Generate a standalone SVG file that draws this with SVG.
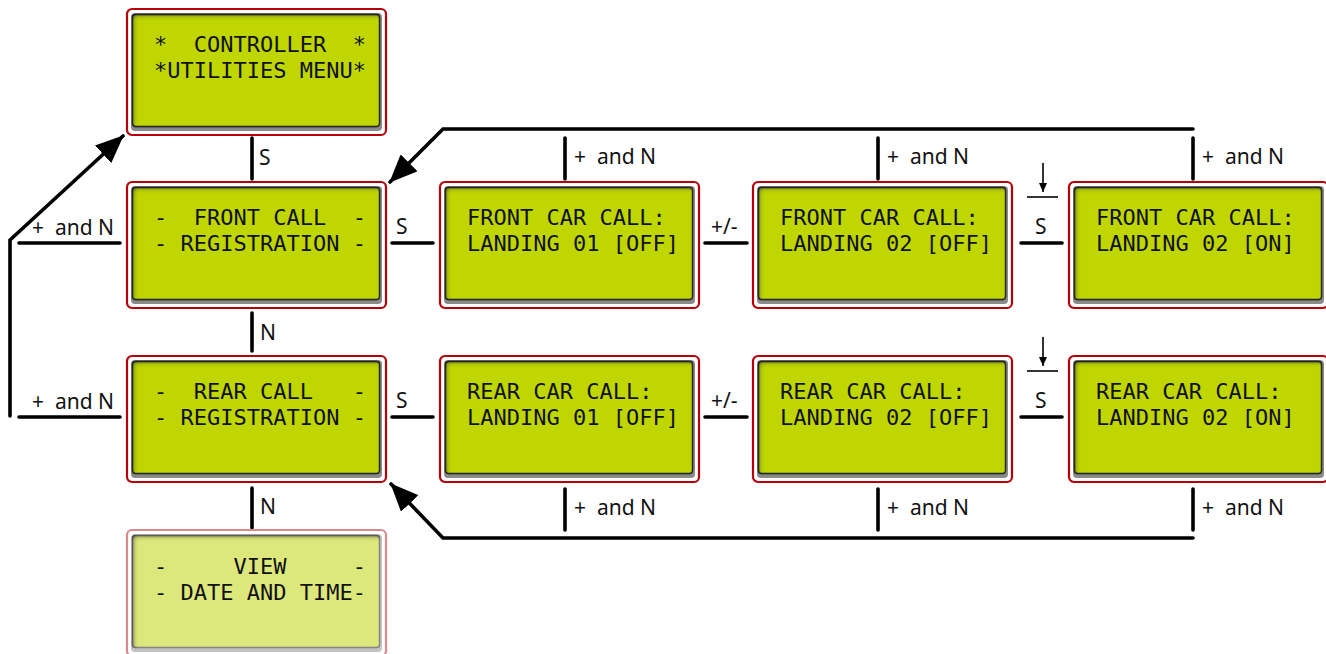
<svg xmlns="http://www.w3.org/2000/svg" width="1326" height="654" viewBox="0 0 1326 654">
<style>
.outer{fill:#fff;stroke:#b8000a;stroke-width:2.2}
.bevel{fill:#8a8a8a}
.screen{fill:#bfd600;stroke:#2a2a2a;stroke-width:1.4}
.lcd{font-family:"DejaVu Sans Mono",monospace;font-size:22px;fill:#111;white-space:pre}
.lbl{font-family:"Noto Sans","Open Sans",sans-serif;font-size:21px;fill:#111;white-space:pre}
.ln{stroke:#000;stroke-width:3.6;fill:none;stroke-linecap:round}
.thin{stroke:#000;stroke-width:1.6;fill:none}
.faded .outer{stroke:#d88a8e}
.faded .bevel{fill:#c4c4c4}
.faded .screen{fill:#dde87c;stroke:#8a8a8a}
</style>
<defs>
<filter id="inner" x="-5%" y="-5%" width="110%" height="110%">
<feComponentTransfer in="SourceAlpha"><feFuncA type="table" tableValues="1 0"/></feComponentTransfer>
<feGaussianBlur stdDeviation="2.2"/>
<feOffset dx="2" dy="2" result="shadow"/>
<feFlood flood-color="#222" flood-opacity="0.9"/>
<feComposite in2="shadow" operator="in"/>
<feComposite in2="SourceAlpha" operator="in" result="sh"/>
<feMerge><feMergeNode in="SourceGraphic"/><feMergeNode in="sh"/></feMerge>
</filter>
<marker id="big" markerUnits="userSpaceOnUse" markerWidth="30" markerHeight="24" refX="27" refY="12" orient="auto">
<path d="M0,0 L28,12 L0,24 Z" fill="#000"/>
</marker>
<marker id="small" markerUnits="userSpaceOnUse" markerWidth="10" markerHeight="10" refX="9" refY="4" orient="auto">
<path d="M0,0 L9,4 L0,8 Z" fill="#000"/>
</marker>
<g id="box">
<rect class="outer" x="0" y="0" width="259" height="126" rx="5"/>
<rect class="bevel" x="4" y="4" width="251" height="118" rx="4"/>
<rect class="screen" x="5.5" y="5.5" width="247" height="112" rx="3" filter="url(#inner)"/>
</g>
</defs>

<g id="connectors">
<polyline class="ln" points="10,416 10,240 123,136" marker-end="url(#big)"/>
<line class="ln" x1="19" y1="243" x2="120" y2="243"/>
<line class="ln" x1="19" y1="417" x2="120" y2="417"/>
<text class="lbl" x="32" y="235">+  and N</text>
<text class="lbl" x="32" y="409">+  and N</text>
<line class="ln" x1="252" y1="138" x2="252" y2="179"/>
<text class="lbl" x="259" y="165">S</text>
<line class="ln" x1="252" y1="313" x2="252" y2="351"/>
<text class="lbl" x="260" y="340">N</text>
<line class="ln" x1="252" y1="488" x2="252" y2="528"/>
<text class="lbl" x="260" y="514">N</text>
<line class="ln" x1="392" y1="243" x2="433" y2="243"/>
<text class="lbl" x="396" y="234">S</text>
<line class="ln" x1="705" y1="243" x2="747" y2="243"/>
<text class="lbl" x="711" y="234">+/-</text>
<line class="ln" x1="1021" y1="243" x2="1062" y2="243"/>
<text class="lbl" x="1035" y="234">S</text>
<line class="thin" x1="1027" y1="197" x2="1058" y2="197"/>
<line class="thin" x1="1043" y1="163" x2="1043" y2="192" marker-end="url(#small)"/>
<line class="ln" x1="392" y1="417" x2="433" y2="417"/>
<text class="lbl" x="396" y="408">S</text>
<line class="ln" x1="705" y1="417" x2="747" y2="417"/>
<text class="lbl" x="711" y="408">+/-</text>
<line class="ln" x1="1021" y1="417" x2="1062" y2="417"/>
<text class="lbl" x="1035" y="408">S</text>
<line class="thin" x1="1027" y1="371" x2="1058" y2="371"/>
<line class="thin" x1="1043" y1="337" x2="1043" y2="366" marker-end="url(#small)"/>
<polyline class="ln" points="1193,129 443,129 390,182" marker-end="url(#big)"/>
<line class="ln" x1="565" y1="138" x2="565" y2="179"/>
<line class="ln" x1="878" y1="138" x2="878" y2="179"/>
<line class="ln" x1="1193" y1="138" x2="1193" y2="179"/>
<text class="lbl" x="574" y="164">+  and N</text>
<text class="lbl" x="887" y="164">+  and N</text>
<text class="lbl" x="1202" y="164">+  and N</text>
<polyline class="ln" points="1193,538 443,538 391,484" marker-end="url(#big)"/>
<line class="ln" x1="565" y1="489" x2="565" y2="530"/>
<line class="ln" x1="878" y1="489" x2="878" y2="530"/>
<line class="ln" x1="1193" y1="489" x2="1193" y2="530"/>
<text class="lbl" x="574" y="515">+  and N</text>
<text class="lbl" x="887" y="515">+  and N</text>
<text class="lbl" x="1202" y="515">+  and N</text>
</g>

<g id="node-utilities">
<use href="#box" x="127" y="9"/>
<text class="lcd" x="154" y="52">*  CONTROLLER  *</text>
<text class="lcd" x="154" y="78">*UTILITIES MENU*</text>
</g>
<g id="node-front-reg">
<use href="#box" x="127" y="182"/>
<text class="lcd" x="154" y="225">-  FRONT CALL  -</text>
<text class="lcd" x="154" y="251">- REGISTRATION -</text>
</g>
<g id="node-front-01">
<use href="#box" x="440" y="182"/>
<text class="lcd" x="467" y="225">FRONT CAR CALL:</text>
<text class="lcd" x="467" y="251">LANDING 01 [OFF]</text>
</g>
<g id="node-front-02off">
<use href="#box" x="753" y="182"/>
<text class="lcd" x="780" y="225">FRONT CAR CALL:</text>
<text class="lcd" x="780" y="251">LANDING 02 [OFF]</text>
</g>
<g id="node-front-02on">
<use href="#box" x="1069" y="182"/>
<text class="lcd" x="1096" y="225">FRONT CAR CALL:</text>
<text class="lcd" x="1096" y="251">LANDING 02 [ON]</text>
</g>
<g id="node-rear-reg">
<use href="#box" x="127" y="356"/>
<text class="lcd" x="154" y="399">-  REAR CALL   -</text>
<text class="lcd" x="154" y="425">- REGISTRATION -</text>
</g>
<g id="node-rear-01">
<use href="#box" x="440" y="356"/>
<text class="lcd" x="467" y="399">REAR CAR CALL:</text>
<text class="lcd" x="467" y="425">LANDING 01 [OFF]</text>
</g>
<g id="node-rear-02off">
<use href="#box" x="753" y="356"/>
<text class="lcd" x="780" y="399">REAR CAR CALL:</text>
<text class="lcd" x="780" y="425">LANDING 02 [OFF]</text>
</g>
<g id="node-rear-02on">
<use href="#box" x="1069" y="356"/>
<text class="lcd" x="1096" y="399">REAR CAR CALL:</text>
<text class="lcd" x="1096" y="425">LANDING 02 [ON]</text>
</g>
<g id="node-date-time" class="faded">
<rect class="outer" x="127" y="530" width="259" height="126" rx="5"/>
<rect class="bevel" x="131" y="534" width="251" height="118" rx="4"/>
<rect class="screen" x="132.5" y="535.5" width="247" height="112" rx="3" filter="url(#inner)"/>
<text class="lcd" x="154" y="574">-     VIEW     -</text>
<text class="lcd" x="154" y="600">- DATE AND TIME-</text>
</g>
</svg>
